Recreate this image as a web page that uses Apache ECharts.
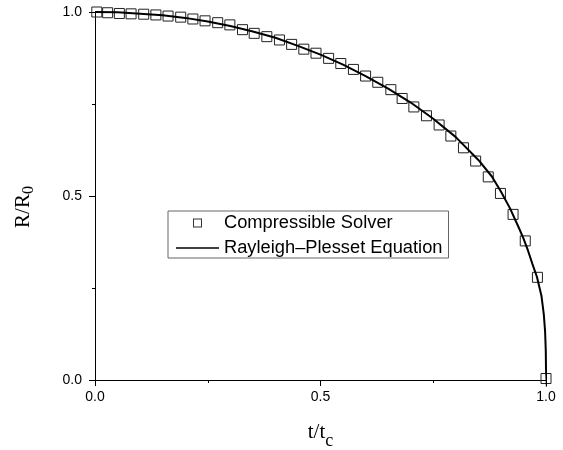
<!DOCTYPE html>
<html>
<head>
<meta charset="utf-8">
<script src="https://cdn.jsdelivr.net/npm/echarts@6/dist/echarts.min.js"></script>
<style>html,body{margin:0;padding:0;background:#fff;}#c{width:563px;height:450px;}</style>
</head>
<body>
<div id="c"></div>
<script>
// Compressible solver samples (t/tc, R/R0)
const sqT = [0.004, 0.028, 0.054, 0.080, 0.108, 0.135, 0.162, 0.190, 0.217, 0.244, 0.272, 0.299, 0.327, 0.353, 0.381, 0.409, 0.436, 0.463, 0.490, 0.518, 0.545, 0.573, 0.600, 0.627, 0.656, 0.681, 0.707, 0.735, 0.763, 0.789, 0.817, 0.844, 0.872, 0.899, 0.927, 0.954, 0.981, 1.000];
const sqR = [1.000, 0.998, 0.996, 0.995, 0.994, 0.992, 0.989, 0.986, 0.981, 0.976, 0.971, 0.965, 0.952, 0.942, 0.933, 0.924, 0.912, 0.899, 0.888, 0.874, 0.860, 0.844, 0.826, 0.809, 0.789, 0.765, 0.742, 0.718, 0.693, 0.663, 0.631, 0.595, 0.552, 0.507, 0.450, 0.378, 0.279, 0.004];
// Rayleigh–Plesset curve (t/tc, R/R0)
const rpT = [0, 0.05, 0.1, 0.15, 0.2, 0.25, 0.3, 0.35, 0.4, 0.45, 0.5, 0.55, 0.6, 0.65, 0.7, 0.75, 0.8, 0.85, 0.88, 0.9, 0.92, 0.94, 0.95, 0.96, 0.97, 0.98, 0.99, 0.995, 0.998, 0.9995, 1.0, 1.002];
const rpR = [1.000, 0.999, 0.995, 0.991, 0.984, 0.974, 0.962, 0.947, 0.930, 0.908, 0.884, 0.857, 0.826, 0.792, 0.754, 0.710, 0.660, 0.598, 0.553, 0.512, 0.467, 0.413, 0.385, 0.352, 0.315, 0.280, 0.228, 0.180, 0.132, 0.080, 0.030, -0.018];
const seriesNames = ['Compressible Solver', 'Rayleigh\u2013Plesset Equation'];
const xTickLabels = ['0.0', '0.5', '1.0'];
const yTickLabels = ['0.0', '0.5', '1.0'];

const sqData = sqT.map((t, i) => [t, sqR[i]]);
const rpData = rpT.map((t, i) => [t, rpR[i]]);
const tickFmt = labels => v => labels[Math.round(v / 0.5)] || '';

const sans = 'Liberation Sans, Arial, sans-serif';
const serif = 'Liberation Serif, Times New Roman, serif';

const chart = echarts.init(document.getElementById('c'), null, {renderer: 'canvas'});
chart.setOption({
  animation: false,
  backgroundColor: '#fff',
  grid: {left: 95, right: 17, top: 12, bottom: 70, containLabel: false, outerBoundsMode: 'none'},
  legend: {
    orient: 'vertical', left: 168, top: 211,
    itemWidth: 43, itemHeight: 9, itemGap: 7,
    padding: [3, 6, 1, 8],
    borderColor: '#666', borderWidth: 1,
    symbolKeepAspect: true,
    textStyle: {fontFamily: sans, fontSize: 18.3, color: '#000'},
    data: [
      {name: seriesNames[0], icon: 'path://M0,0 h10 v10 h-10 z M1.1,1.1 v7.8 h7.8 v-7.8 z', itemStyle: {color: '#333', borderWidth: 0}},
      {name: seriesNames[1], icon: 'path://M0,0 h86 v3 h-86 z', itemStyle: {color: '#000', borderWidth: 0}}
    ]
  },
  xAxis: {
    type: 'value', min: 0, max: 1, interval: 0.5,
    name: '{m|t/t}{s|c}', nameLocation: 'middle', nameGap: 35,
    nameTextStyle: {rich: {
      m: {fontFamily: serif, fontSize: 21, color: '#000'},
      s: {fontFamily: serif, fontSize: 18, color: '#000', padding: [17, 0, 0, 0]}
    }},
    axisLine: {show: true, onZero: false, lineStyle: {color: '#000', width: 1}},
    axisTick: {show: true, inside: false, length: 6, lineStyle: {color: '#000'}},
    minorTick: {show: true, splitNumber: 2, length: 3, lineStyle: {color: '#000'}},
    splitLine: {show: false},
    axisLabel: {margin: 10, fontFamily: sans, fontSize: 14, color: '#000', formatter: tickFmt(xTickLabels)}
  },
  yAxis: {
    type: 'value', min: 0, max: 1, interval: 0.5,
    name: '{m|R/R}{s|0}', nameLocation: 'middle', nameGap: 58, nameRotate: 90,
    nameTextStyle: {padding: [0, 22, 0, 0], rich: {
      m: {fontFamily: serif, fontSize: 21, color: '#000'},
      s: {fontFamily: serif, fontSize: 16, color: '#000', padding: [12, 0, 0, 0]}
    }},
    axisLine: {show: true, onZero: false, lineStyle: {color: '#000', width: 1}},
    axisTick: {show: true, inside: false, length: 6, lineStyle: {color: '#000'}},
    minorTick: {show: true, splitNumber: 2, length: 3, lineStyle: {color: '#000'}},
    splitLine: {show: false},
    axisLabel: {margin: 13, fontFamily: sans, fontSize: 14, color: '#000', formatter: tickFmt(yTickLabels)}
  },
  series: [
    {
      name: seriesNames[0], type: 'scatter', data: sqData,
      symbol: 'rect', symbolSize: 10, z: 2, clip: false,
      itemStyle: {color: 'rgba(255,255,255,0)', borderColor: '#222', borderWidth: 1, opacity: 1}
    },
    {
      name: seriesNames[1], type: 'line', data: rpData,
      showSymbol: false, symbol: 'none', smooth: false, z: 3, clip: false,
      lineStyle: {color: '#000', width: 2},
      itemStyle: {color: '#000'}
    }
  ]
});
</script>
</body>
</html>
